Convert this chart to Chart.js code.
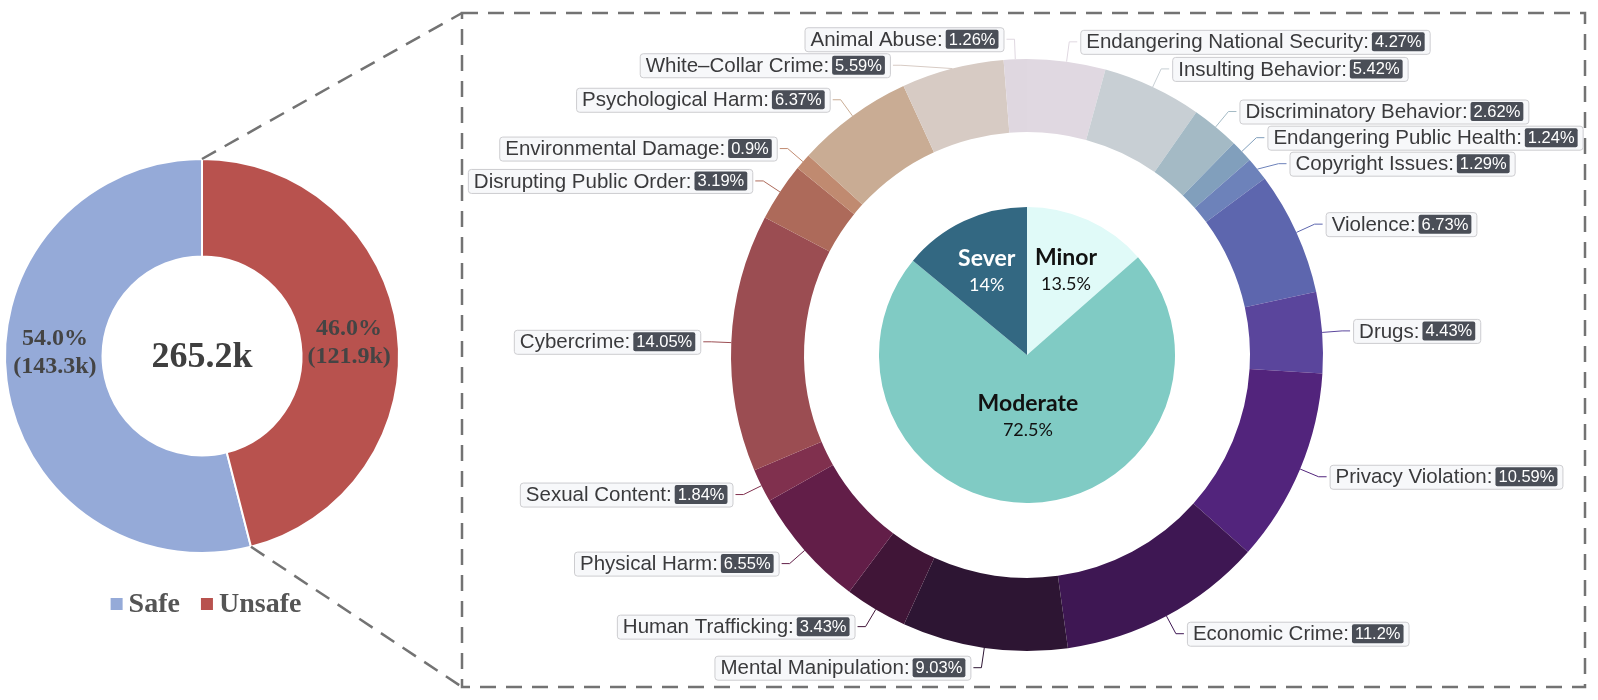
<!DOCTYPE html>
<html lang="en">

<head>
    <meta charset="UTF-8">
    <title>Safe / Unsafe breakdown</title>
    <script src="https://cdn.jsdelivr.net/npm/chart.js"></script>
    <style>
        body { margin: 0; width: 1598px; height: 700px; background: #fff; position: relative; overflow: hidden; }
        canvas { position: absolute; }
    </style>
</head>

<body>
    <canvas id="safeChart"></canvas>
    <canvas id="typeChart"></canvas>
    <canvas id="levelChart"></canvas>

    <script>
        // safe vs unsafe
        var safeLabels = ['Safe', 'Unsafe'];
        var safeShare = [54.0, 46.0];
        var safeCount = ['143.3k', '121.9k'];
        var totalCount = '265.2k';
        var safeColors = ['#95AAD8', '#B8524E'];

        // unsafe categories (clockwise from 12 o'clock)
        var typeLabels = ['Endangering National Security', 'Insulting Behavior', 'Discriminatory Behavior',
            'Endangering Public Health', 'Copyright Issues', 'Violence', 'Drugs', 'Privacy Violation',
            'Economic Crime', 'Mental Manipulation', 'Human Trafficking', 'Physical Harm', 'Sexual Content',
            'Cybercrime', 'Disrupting Public Order', 'Environmental Damage', 'Psychological Harm',
            'White–Collar Crime', 'Animal Abuse'];
        var typeShare = [4.27, 5.42, 2.62, 1.24, 1.29, 6.73, 4.43, 10.59, 11.2, 9.03, 3.43, 6.55, 1.84,
            14.05, 3.19, 0.9, 6.37, 5.59, 1.26];
        var typeColors = ['#E0D8E1', '#C8CFD4', '#A4BAC5', '#819FBC', '#6D82BA', '#5D66AE', '#5A459C',
            '#52247C', '#3E1753', '#2D1533', '#401537', '#621E48', '#80304E', '#9B4D52', '#AD6A5A',
            '#C08A70', '#C9AC94', '#D7CBC4', '#DFD7E0'];

        // severity levels
        var levelLabels = ['Minor', 'Moderate', 'Sever'];
        var levelShare = [13.5, 72.5, 14];
        var levelColors = ['#E0FAF8', '#80CBC4', '#336882'];
        var levelTextColors = ['#111', '#111', '#fff'];
        var levelLabelPos = [0.64, 0.4, 0.64];   // label distance from centre, as part of radius

        // page geometry
        var SAFE = { x: 202, y: 356, r: 198, hole: 100 };
        var RING = { x: 1027, y: 355, r: 296, hole: 223 };
        var PIE_R = 148;
        var BOX = { left: 462, top: 13, right: 1585, bottom: 687 };

        function place(id, left, top, w, h) {
            var c = document.getElementById(id);
            c.width = w; c.height = h;
            c.style.left = left + 'px'; c.style.top = top + 'px';
            c.style.width = w + 'px'; c.style.height = h + 'px';
            return c;
        }

        function dashed(ctx) {
            ctx.strokeStyle = '#737373';
            ctx.lineWidth = 2.5;
            ctx.setLineDash([16, 10]);
        }

        // ---------- left doughnut ----------
        var safeCanvas = place('safeChart', 0, 0, 470, 700);

        var safeDecor = {
            id: 'safeDecor',
            afterDatasetsDraw: function (chart) {
                var ctx = chart.ctx;
                var meta = chart.getDatasetMeta(0);
                var a0 = meta.data[0];
                var cx = a0.x, cy = a0.y;
                var rMid = (a0.innerRadius + a0.outerRadius) / 2;
                ctx.save();
                ctx.textAlign = 'center';
                ctx.textBaseline = 'middle';
                ctx.fillStyle = '#3F3F3F';
                ctx.font = 'bold 36px "Liberation Serif"';
                ctx.fillText(totalCount, cx, cy + 2);

                ctx.fillStyle = '#444';
                ctx.font = 'bold 24px "Liberation Serif"';
                meta.data.forEach(function (arc, i) {
                    var mid = (arc.startAngle + arc.endAngle) / 2;
                    var x = cx + Math.cos(mid) * rMid;
                    var yc = cy - 8 + Math.sin(mid) * rMid * 0.27;
                    ctx.fillText(safeShare[i].toFixed(1) + '%', x, yc - 14);
                    ctx.fillText('(' + safeCount[i] + ')', x, yc + 14);
                });

                // legend
                ctx.font = 'bold 28px "Liberation Serif"';
                ctx.textAlign = 'left';
                var total = 0;
                safeLabels.forEach(function (l, i) {
                    total += 18 + ctx.measureText(l).width + (i ? 21 : 0);
                });
                var x = cx + 4 - total / 2, ly = 604;
                safeLabels.forEach(function (l, i) {
                    ctx.fillStyle = safeColors[i];
                    ctx.fillRect(x, ly - 6, 12, 12);
                    ctx.fillStyle = '#555';
                    ctx.fillText(l, x + 18, ly + 1);
                    x += 18 + ctx.measureText(l).width + 21;
                });

                // dashed lines from the unsafe slice to the detail box
                var u = meta.data[1];
                dashed(ctx);
                ctx.beginPath();
                ctx.moveTo(cx + Math.cos(u.startAngle) * u.outerRadius, cy + Math.sin(u.startAngle) * u.outerRadius);
                ctx.lineTo(BOX.left, BOX.top);
                ctx.moveTo(cx + Math.cos(u.endAngle) * u.outerRadius, cy + Math.sin(u.endAngle) * u.outerRadius);
                ctx.lineTo(BOX.left, BOX.bottom);
                ctx.stroke();
                ctx.restore();
            }
        };

        new Chart(safeCanvas, {
            type: 'doughnut',
            data: {
                labels: safeLabels,
                datasets: [{
                    data: safeShare,
                    backgroundColor: safeColors,
                    borderColor: '#fff',
                    borderWidth: 2
                }]
            },
            options: {
                responsive: false,
                animation: false,
                rotation: 360 * safeShare[1] / 100,
                cutout: (SAFE.hole / SAFE.r * 100) + '%',
                layout: {
                    padding: {
                        left: SAFE.x - SAFE.r,
                        top: SAFE.y - SAFE.r,
                        right: 470 - SAFE.x - SAFE.r,
                        bottom: 700 - SAFE.y - SAFE.r
                    }
                },
                plugins: { legend: { display: false }, tooltip: { enabled: false } }
            },
            plugins: [safeDecor]
        });

        // ---------- category ring ----------
        var tL = BOX.left - 6, tT = BOX.top - 7;
        var tW = BOX.right - tL + 7, tH = BOX.bottom - tT + 7;
        var typeCanvas = place('typeChart', tL, tT, tW, tH);

        var typeDecor = {
            id: 'typeDecor',
            beforeDraw: function (chart) {
                var ctx = chart.ctx;
                ctx.save();
                dashed(ctx);
                ctx.strokeRect(BOX.left - tL, BOX.top - tT, BOX.right - BOX.left, BOX.bottom - BOX.top);
                ctx.restore();
            },
            afterDatasetsDraw: function (chart) {
                var ctx = chart.ctx;
                var meta = chart.getDatasetMeta(0);
                var items = [];
                meta.data.forEach(function (arc, i) {
                    var mid = (arc.startAngle + arc.endAngle) / 2;
                    var r = arc.outerRadius;
                    items.push({
                        i: i,
                        cx: arc.x, cy: arc.y,
                        r2: r + 20,
                        x1: arc.x + Math.cos(mid) * r,
                        y1: arc.y + Math.sin(mid) * r,
                        y: arc.y + Math.sin(mid) * (r + 20),
                        right: Math.cos(mid) >= 0
                    });
                });
                // push overlapping labels apart on each side
                [true, false].forEach(function (side) {
                    var list = items.filter(function (it) { return it.right === side; });
                    list.sort(function (a, b) { return a.y - b.y; });
                    for (var k = 1; k < list.length; k++) {
                        if (list[k].y < list[k - 1].y + 26) list[k].y = list[k - 1].y + 26;
                    }
                });

                ctx.save();
                ctx.textBaseline = 'middle';
                items.forEach(function (it) {
                    var dy = it.y - it.cy;
                    var dx = Math.sqrt(Math.max(it.r2 * it.r2 - dy * dy, 0));
                    var dir = it.right ? 1 : -1;
                    var x2 = it.cx + dir * dx;
                    var x3 = x2 + dir * 8;

                    ctx.strokeStyle = typeColors[it.i];
                    ctx.lineWidth = 1;
                    ctx.setLineDash([]);
                    ctx.beginPath();
                    ctx.moveTo(it.x1, it.y1);
                    ctx.lineTo(x2, it.y);
                    ctx.lineTo(x3, it.y);
                    ctx.stroke();

                    var name = typeLabels[it.i] + ':';
                    var pct = typeShare[it.i] + '%';
                    ctx.font = '20.5px "Liberation Sans"';
                    var nameW = ctx.measureText(name).width;
                    ctx.font = '16.5px "Liberation Sans"';
                    var pctW = ctx.measureText(pct).width;
                    var boxW = 6 + nameW + 3 + pctW + 6 + 5;
                    var bx = it.right ? x3 + 3 : x3 - 3 - boxW;
                    var by = it.y - 12;

                    ctx.fillStyle = '#F7F8FA';
                    ctx.strokeStyle = '#CDCDD0';
                    ctx.beginPath();
                    ctx.roundRect(bx + 0.5, by + 0.5, boxW, 24, 3);
                    ctx.fill();
                    ctx.stroke();

                    ctx.textAlign = 'left';
                    ctx.fillStyle = '#3A3A3C';
                    ctx.font = '20.5px "Liberation Sans"';
                    ctx.fillText(name, bx + 6, it.y + 1);

                    var px = bx + 6 + nameW + 3;
                    ctx.fillStyle = '#4A4E57';
                    ctx.beginPath();
                    ctx.roundRect(px, it.y - 9.5, pctW + 6, 19, 2);
                    ctx.fill();
                    ctx.fillStyle = '#fff';
                    ctx.font = '16.5px "Liberation Sans"';
                    ctx.fillText(pct, px + 3, it.y + 1);
                });
                ctx.restore();
            }
        };

        var rcx = RING.x - tL, rcy = RING.y - tT;
        new Chart(typeCanvas, {
            type: 'doughnut',
            data: {
                labels: typeLabels,
                datasets: [{
                    data: typeShare,
                    backgroundColor: typeColors,
                    borderWidth: 0
                }]
            },
            options: {
                responsive: false,
                animation: false,
                cutout: (RING.hole / RING.r * 100) + '%',
                layout: {
                    padding: {
                        left: rcx - RING.r,
                        top: rcy - RING.r,
                        right: tW - rcx - RING.r,
                        bottom: tH - rcy - RING.r
                    }
                },
                plugins: { legend: { display: false }, tooltip: { enabled: false } }
            },
            plugins: [typeDecor]
        });

        // ---------- severity pie ----------
        var levelCanvas = place('levelChart', RING.x - PIE_R, RING.y - PIE_R, PIE_R * 2, PIE_R * 2);

        var levelDecor = {
            id: 'levelDecor',
            afterDatasetsDraw: function (chart) {
                var ctx = chart.ctx;
                var meta = chart.getDatasetMeta(0);
                ctx.save();
                ctx.textAlign = 'center';
                ctx.textBaseline = 'middle';
                meta.data.forEach(function (arc, i) {
                    var mid = (arc.startAngle + arc.endAngle) / 2;
                    var r = arc.outerRadius * levelLabelPos[i];
                    var x = arc.x + Math.cos(mid) * r;
                    var y = arc.y + Math.sin(mid) * r;
                    ctx.fillStyle = levelTextColors[i];
                    ctx.font = 'bold 23px Lato';
                    ctx.fillText(levelLabels[i], x, y - 11);
                    ctx.font = '18px Lato';
                    ctx.fillText(levelShare[i] + '%', x, y + 16);
                });
                ctx.restore();
            }
        };

        new Chart(levelCanvas, {
            type: 'pie',
            data: {
                labels: levelLabels,
                datasets: [{
                    data: levelShare,
                    backgroundColor: levelColors,
                    borderWidth: 0
                }]
            },
            options: {
                responsive: false,
                animation: false,
                layout: { padding: 0 },
                plugins: { legend: { display: false }, tooltip: { enabled: false } }
            },
            plugins: [levelDecor]
        });
    </script>
</body>

</html>
